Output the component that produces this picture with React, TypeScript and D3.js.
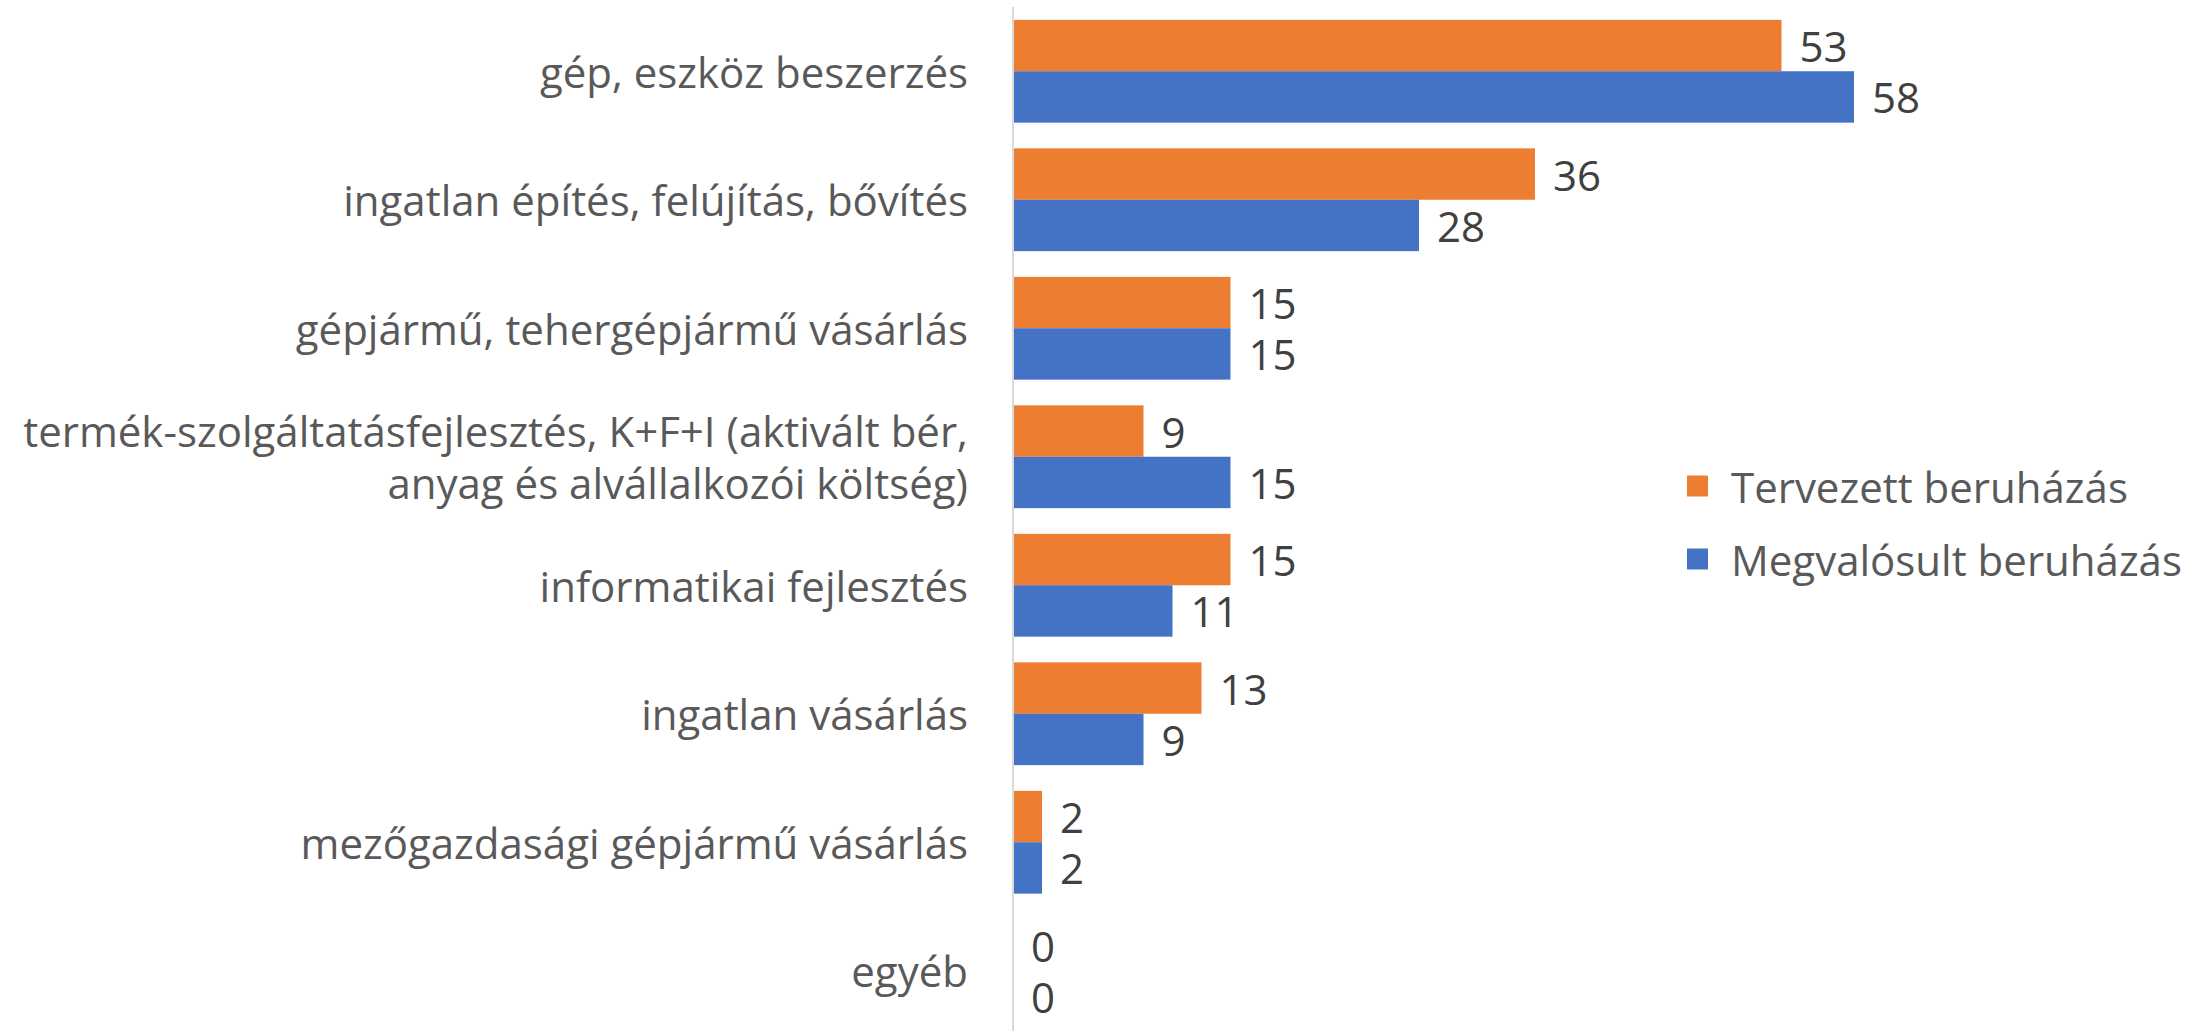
import React from 'react';
import * as d3 from 'd3';

const categories = [
  ['gép, eszköz beszerzés'],
  ['ingatlan építés, felújítás, bővítés'],
  ['gépjármű, tehergépjármű vásárlás'],
  ['termék-szolgáltatásfejlesztés, K+F+I (aktivált bér,', 'anyag és alvállalkozói költség)'],
  ['informatikai fejlesztés'],
  ['ingatlan vásárlás'],
  ['mezőgazdasági gépjármű vásárlás'],
  ['egyéb'],
];
const seriesNames = ['Tervezett beruházás', 'Megvalósult beruházás'];
const planned = [53, 36, 15, 9, 15, 13, 2, 0];
const realized = [58, 28, 15, 15, 11, 9, 2, 0];
const colors = ['#ed7d31', '#4472c4'];

const width = 2206;
const height = 1031;
const font = "'Open Sans', sans-serif";
const fontSize = 42;

export default function App() {
  const keys = categories.map((c, i) => String(i));
  const x = d3.scaleLinear().domain([0, 60]).range([1013, 1883]);
  const y = d3.scaleBand().domain(keys).range([7, 1035]).paddingInner(0.2).paddingOuter(0.1);
  const sub = d3.scaleBand().domain(['0', '1']).range([0, y.bandwidth()]);
  const values = [planned, realized];

  return (
    <svg width={width} height={height} style={{ position: 'absolute', left: 0, top: 0, display: 'block' }}
      fontFamily={font} fontSize={fontSize}>
      <rect width={width} height={height} fill="#fff" />
      {keys.map((k, i) => (
        <g key={k}>
          {values.map((vals, s) => {
            const top = (y(k) as number) + (sub(String(s)) as number);
            return (
              <g key={s}>
                <rect x={x(0)} y={top} width={x(vals[i]) - x(0)} height={sub.bandwidth()} fill={colors[s]} />
                <text x={x(vals[i]) + 18} y={top + sub.bandwidth() / 2} dominantBaseline="central" fill="#404040">
                  {vals[i]}
                </text>
              </g>
            );
          })}
          <text x={968} textAnchor="end" fill="#595959">
            {categories[i].map((line, j) => {
              const n = categories[i].length;
              const cy = (y(k) as number) + y.bandwidth() / 2 + (j - (n - 1) / 2) * 52;
              return (
                <tspan key={j} x={968} y={cy} dominantBaseline="central">{line}</tspan>
              );
            })}
          </text>
        </g>
      ))}
      <line x1={x(0)} x2={x(0)} y1={7} y2={height} stroke="#d9d9d9" strokeWidth={2} />
      {seriesNames.map((name, s) => (
        <g key={name} transform={`translate(1687, ${486 + s * 73})`}>
          <rect x={0} y={-10.5} width={21} height={21} fill={colors[s]} />
          <text x={44} y={0} dominantBaseline="central" fill="#595959">{name}</text>
        </g>
      ))}
    </svg>
  );
}
